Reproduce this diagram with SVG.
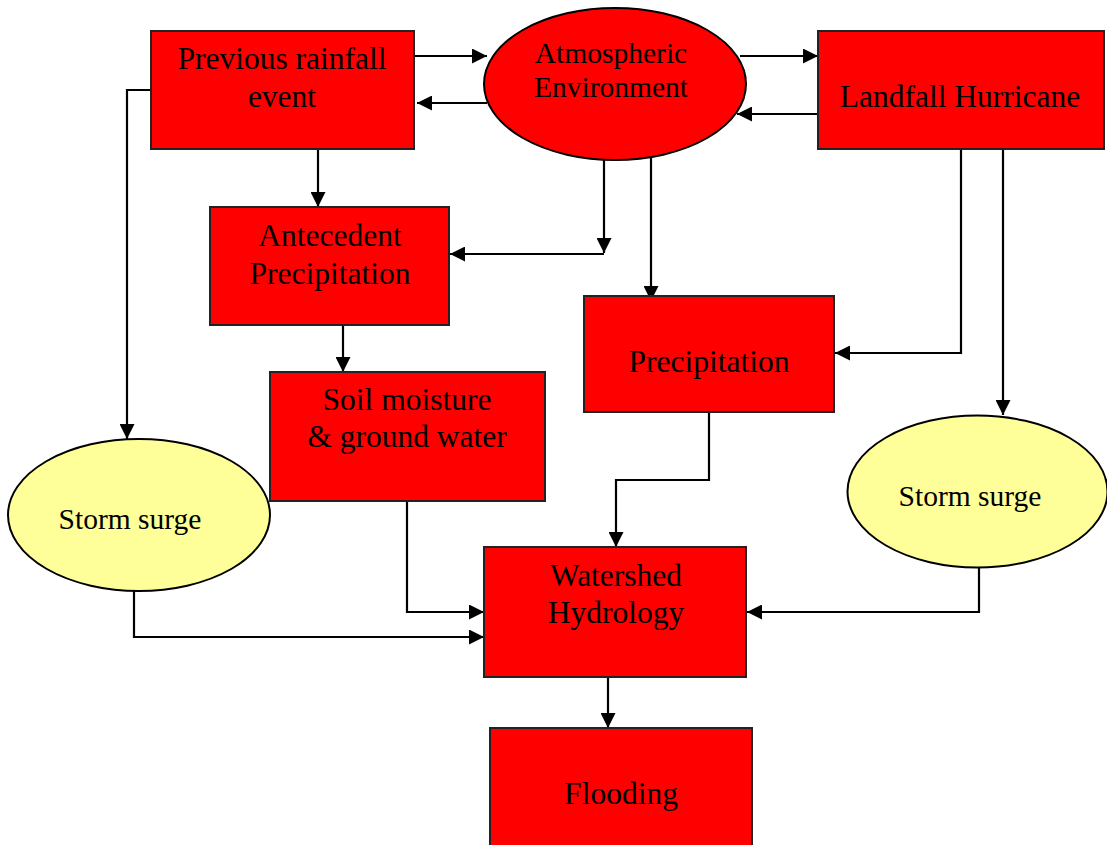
<svg xmlns="http://www.w3.org/2000/svg" width="1107" height="845" viewBox="0 0 1107 845">
<style>
.box{fill:#ff0000;stroke:#222;stroke-width:2}
.yel{fill:#ffff99;stroke:#000;stroke-width:2}
.t{font-family:"Liberation Serif","Times New Roman",serif;font-size:31.5px;fill:#000;text-anchor:middle}
.ts{font-family:"Liberation Serif","Times New Roman",serif;font-size:29.5px;fill:#000;text-anchor:middle}
.c{fill:none;stroke:#000;stroke-width:2.2}
</style>
<defs>
<marker id="ah" markerUnits="userSpaceOnUse" markerWidth="16" markerHeight="15" refX="15" refY="7.5" orient="auto">
<path d="M0,0 L15,7.5 L0,15 z" fill="#000"/>
</marker>
</defs>
<rect width="1107" height="845" fill="#fff"/>
<g id="connectors">
<path class="c" d="M414,56 H487" marker-end="url(#ah)"/>
<path class="c" d="M487,103 H417" marker-end="url(#ah)"/>
<path class="c" d="M740,56 H818" marker-end="url(#ah)"/>
<path class="c" d="M818,114 H737" marker-end="url(#ah)"/>
<path class="c" d="M604,160 V253" marker-end="url(#ah)"/>
<path class="c" d="M604,254 H450" marker-end="url(#ah)"/>
<path class="c" d="M651,158 V301" marker-end="url(#ah)"/>
<path class="c" d="M318,149 V207" marker-end="url(#ah)"/>
<path class="c" d="M151,90 H127 V439" marker-end="url(#ah)"/>
<path class="c" d="M343,325 V372" marker-end="url(#ah)"/>
<path class="c" d="M407,501 V612 H484" marker-end="url(#ah)"/>
<path class="c" d="M134,591 V637 H484" marker-end="url(#ah)"/>
<path class="c" d="M709,412 V480 H616 V547" marker-end="url(#ah)"/>
<path class="c" d="M961,149 V353 H835" marker-end="url(#ah)"/>
<path class="c" d="M1003,149 V415" marker-end="url(#ah)"/>
<path class="c" d="M979,568 V612 H747" marker-end="url(#ah)"/>
<path class="c" d="M608,677 V728" marker-end="url(#ah)"/>
</g>
<g id="previous-rainfall">
<rect class="box" x="151" y="31" width="263" height="118"/>
<text class="t" x="282" y="69">Previous rainfall</text>
<text class="t" x="282" y="107">event</text>
</g>
<g id="atmospheric">
<ellipse class="box" cx="615" cy="84" rx="131" ry="76" style="stroke:#000"/>
<text class="ts" x="611" y="63">Atmospheric</text>
<text class="ts" x="611" y="97">Environment</text>
</g>
<g id="landfall-hurricane">
<rect class="box" x="818" y="31" width="286" height="118"/>
<text class="t" x="960" y="107">Landfall Hurricane</text>
</g>
<g id="antecedent">
<rect class="box" x="210" y="207" width="239" height="118"/>
<text class="t" x="330" y="246">Antecedent</text>
<text class="t" x="330" y="284">Precipitation</text>
</g>
<g id="soil-moisture">
<rect class="box" x="270" y="372" width="275" height="129"/>
<text class="t" x="407" y="410">Soil moisture</text>
<text class="t" x="407" y="447">&amp; ground water</text>
</g>
<g id="precipitation">
<rect class="box" x="584" y="296" width="250" height="116"/>
<text class="t" x="709" y="372">Precipitation</text>
</g>
<g id="storm-surge-left">
<ellipse class="yel" cx="139" cy="515" rx="131" ry="76"/>
<text class="ts" x="130" y="529">Storm surge</text>
</g>
<g id="storm-surge-right">
<ellipse class="yel" cx="977.5" cy="491.5" rx="130" ry="76"/>
<text class="ts" x="970" y="506">Storm surge</text>
</g>
<g id="watershed">
<rect class="box" x="484" y="547" width="262" height="130"/>
<text class="t" x="616" y="586">Watershed</text>
<text class="t" x="616" y="623">Hydrology</text>
</g>
<g id="flooding">
<rect class="box" x="490" y="728" width="262" height="130"/>
<text class="t" x="621" y="804">Flooding</text>
</g>
</svg>
